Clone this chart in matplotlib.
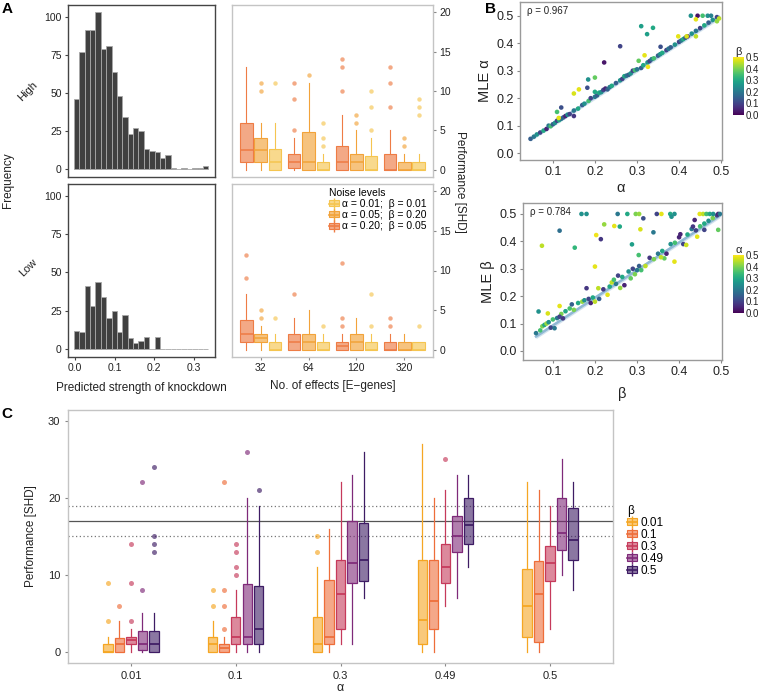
import numpy as np
import matplotlib
matplotlib.use("Agg")
import matplotlib.pyplot as plt
from matplotlib.colors import to_rgba, Normalize
from matplotlib.cm import ScalarMappable
from matplotlib.patches import Patch
from matplotlib.lines import Line2D

plt.rcParams['font.family'] = ['Liberation Sans', 'DejaVu Sans']

W, H = 761, 695

# ---------------- panel A : histograms ----------------
hist_edges = np.linspace(-0.003, 0.337, 26)
high_counts = [46, 77, 91, 91, 103, 79, 81, 64, 48, 34, 23, 27, 25, 13, 12, 11, 7, 9, 1, 0, 1, 0, 1, 1, 2]
low_counts = [12, 11, 41, 28, 44, 34, 20, 25, 11, 22, 7, 4, 5, 8, 0, 8, 0, 0, 0, 0, 0, 0, 0, 0, 0]

# ---------------- panel A : boxplots (q1, median, q3, whisker low, whisker high) ----------------
effects = ['32', '64', '120', '320']
noise_labels = ['α = 0.01;  β = 0.01', 'α = 0.05;  β = 0.20', 'α = 0.20;  β = 0.05']
noise_colors = ['#F5C550', '#F2A33A', '#EE7C45']

hi_a20 = [(1, 2.5, 6, 0, 13), (0.3, 1, 2, 0, 4), (0, 1, 3, 0, 7), (0, 0, 2, 0, 5)]
hi_a20_out = [[], [5, 9, 11], [10, 13, 14], [8, 11, 13]]
hi_a05 = [(1, 2.5, 4, 0, 6), (0, 1, 4.8, 0, 11), (0, 1, 2, 0, 5), (0, 0, 1, 0, 2)]
hi_a05_out = [[10, 11], [12], [6, 7], [3, 4]]
hi_a01 = [(0, 1, 2.7, 0, 6), (0, 0, 1, 0, 2), (0, 0, 1.8, 0, 4), (0, 0, 1, 0, 2)]
hi_a01_out = [[11], [3, 4, 6], [5, 8, 10], [7, 8, 9]]

lo_a20 = [(1, 2, 3.8, 0, 7), (0, 1, 2, 0, 4), (0, 0.5, 1, 0, 2), (0, 0, 1, 0, 2)]
lo_a20_out = [[9, 12], [7], [3, 4, 11], [3, 4]]
lo_a05 = [(1, 1.5, 2, 0, 3), (0, 1, 2, 0, 5), (0, 1, 2, 0, 4), (0, 0, 1, 0, 2)]
lo_a05_out = [[4, 5], [], [], []]
lo_a01 = [(0, 0, 1, 0, 2), (0, 0, 1, 0, 2), (0, 0, 1, 0, 2), (0, 0, 1, 0, 1)]
lo_a01_out = [[4], [3], [3, 7], [3]]

# ---------------- panel B : scatter ----------------
b1_alpha = [0.047, 0.055, 0.062, 0.07, 0.078, 0.085, 0.09, 0.095, 0.1, 0.105, 0.11, 0.115, 0.12, 0.125,
            0.13, 0.135, 0.14, 0.15, 0.16, 0.17, 0.175, 0.185, 0.19, 0.2, 0.205, 0.21, 0.215, 0.22, 0.225,
            0.23, 0.235, 0.24, 0.25, 0.26, 0.265, 0.27, 0.275, 0.28, 0.285, 0.29, 0.295, 0.3, 0.31, 0.315,
            0.325, 0.33, 0.335, 0.34, 0.35, 0.355, 0.36, 0.37, 0.375, 0.38, 0.39, 0.4, 0.405, 0.41, 0.415,
            0.42, 0.43, 0.44, 0.45, 0.46, 0.47, 0.48, 0.49, 0.495,
            0.428, 0.444, 0.456, 0.468, 0.476, 0.44, 0.49, 0.31, 0.338, 0.324, 0.398, 0.418, 0.44, 0.26,
            0.356, 0.222, 0.318, 0.304, 0.326, 0.184, 0.2, 0.182, 0.162, 0.15, 0.2, 0.12, 0.11, 0.114, 0.15]
b1_mle = [0.052, 0.06, 0.068, 0.075, 0.082, 0.088, 0.1, 0.098, 0.105, 0.11, 0.118, 0.12, 0.125, 0.13,
          0.135, 0.14, 0.142, 0.155, 0.162, 0.175, 0.18, 0.19, 0.2, 0.205, 0.21, 0.22, 0.222, 0.23, 0.235,
          0.232, 0.24, 0.245, 0.255, 0.265, 0.27, 0.28, 0.282, 0.285, 0.29, 0.3, 0.302, 0.305, 0.31, 0.32,
          0.33, 0.335, 0.342, 0.345, 0.355, 0.36, 0.365, 0.375, 0.38, 0.385, 0.395, 0.405, 0.41, 0.415, 0.42,
          0.425, 0.435, 0.445, 0.455, 0.465, 0.475, 0.485, 0.495, 0.49,
          0.5, 0.5, 0.5, 0.5, 0.5, 0.487, 0.48, 0.462, 0.456, 0.433, 0.425, 0.425, 0.425, 0.389,
          0.387, 0.33, 0.356, 0.336, 0.314, 0.268, 0.275, 0.238, 0.232, 0.217, 0.223, 0.166, 0.15, 0.128, 0.135]
b1_beta = [0.15, 0.2, 0.25, 0.1, 0.3, 0.05, 0.2, 0.35, 0.15, 0.25, 0.1, 0.3, 0.2, 0.15,
           0.05, 0.25, 0.1, 0.2, 0.3, 0.15, 0.25, 0.35, 0.1, 0.2, 0.15, 0.3, 0.25, 0.1, 0.05,
           0.15, 0.2, 0.3, 0.15, 0.25, 0.1, 0.3, 0.2, 0.15, 0.25, 0.1, 0.35, 0.2, 0.15, 0.3,
           0.25, 0.1, 0.2, 0.35, 0.15, 0.25, 0.3, 0.1, 0.2, 0.15, 0.25, 0.1, 0.2, 0.3, 0.15,
           0.05, 0.25, 0.2, 0.1, 0.3, 0.15, 0.25, 0.1, 0.45,
           0.25, 0.02, 0.35, 0.25, 0.22, 0.48, 0.42, 0.28, 0.3, 0.28, 0.48, 0.47, 0.45, 0.1,
           0.12, 0.03, 0.48, 0.38, 0.49, 0.25, 0.38, 0.12, 0.48, 0.47, 0.3, 0.12, 0.35, 0.48, 0.08]
b1_rho = 0.967
b1_fit = (0.0055, 0.989)

b2_beta = [0.06, 0.07, 0.075, 0.08, 0.085, 0.09, 0.095, 0.1, 0.11, 0.12, 0.13, 0.14, 0.145, 0.15, 0.16,
           0.17, 0.175, 0.185, 0.19, 0.195, 0.2, 0.21, 0.22, 0.23, 0.235, 0.24, 0.245, 0.25, 0.255, 0.26,
           0.265, 0.27, 0.28, 0.285, 0.29, 0.295, 0.3, 0.305, 0.31, 0.32, 0.33, 0.34, 0.35, 0.36, 0.37,
           0.38, 0.39, 0.4, 0.41, 0.42, 0.43, 0.44, 0.45, 0.46, 0.47, 0.48, 0.49,
           0.168, 0.18, 0.254, 0.277, 0.297, 0.305, 0.347, 0.358, 0.379, 0.389, 0.449, 0.457, 0.465, 0.473,
           0.481, 0.493, 0.497, 0.315, 0.382, 0.222, 0.246, 0.259, 0.308, 0.339, 0.116, 0.203, 0.214, 0.074,
           0.152, 0.288, 0.304, 0.2, 0.389, 0.365, 0.357, 0.493, 0.46, 0.443, 0.417, 0.433, 0.437, 0.403,
           0.18, 0.208, 0.066, 0.116, 0.088, 0.124, 0.104, 0.116]
b2_mle = [0.065, 0.075, 0.09, 0.095, 0.1, 0.105, 0.085, 0.115, 0.12, 0.135, 0.145, 0.155, 0.17, 0.15, 0.175,
          0.18, 0.185, 0.19, 0.175, 0.195, 0.18, 0.19, 0.225, 0.205, 0.235, 0.25, 0.26, 0.245, 0.275, 0.23,
          0.27, 0.24, 0.29, 0.265, 0.3, 0.28, 0.295, 0.31, 0.295, 0.31, 0.34, 0.335, 0.355, 0.365, 0.355,
          0.39, 0.395, 0.415, 0.39, 0.425, 0.445, 0.44, 0.455, 0.465, 0.475, 0.485, 0.495,
          0.5, 0.5, 0.5, 0.5, 0.5, 0.5, 0.5, 0.5, 0.5, 0.5, 0.5, 0.5, 0.5, 0.5,
          0.5, 0.5, 0.5, 0.484, 0.49, 0.462, 0.456, 0.454, 0.444, 0.433, 0.439, 0.423, 0.408, 0.384,
          0.377, 0.389, 0.35, 0.308, 0.326, 0.338, 0.342, 0.442, 0.442, 0.417, 0.387, 0.454, 0.478, 0.426,
          0.229, 0.229, 0.144, 0.164, 0.137, 0.119, 0.083, 0.125]
b2_alpha = [0.2, 0.35, 0.4, 0.3, 0.42, 0.25, 0.1, 0.35, 0.2, 0.4, 0.3, 0.35, 0.15, 0.4, 0.3,
            0.42, 0.25, 0.1, 0.05, 0.3, 0.45, 0.15, 0.08, 0.48, 0.3, 0.45, 0.35, 0.2, 0.1, 0.42,
            0.3, 0.05, 0.25, 0.38, 0.1, 0.4, 0.2, 0.15, 0.35, 0.45, 0.08, 0.4, 0.2, 0.3, 0.05,
            0.25, 0.35, 0.05, 0.1, 0.3, 0.2, 0.1, 0.35, 0.3, 0.25, 0.4, 0.1,
            0.25, 0.25, 0.2, 0.3, 0.4, 0.42, 0.1, 0.48, 0.3, 0.25, 0.48, 0.45, 0.35, 0.3,
            0.25, 0.05, 0.2, 0.12, 0.25, 0.42, 0.48, 0.3, 0.47, 0.2, 0.18, 0.49, 0.08, 0.45,
            0.33, 0.28, 0.35, 0.48, 0.48, 0.38, 0.45, 0.38, 0.1, 0.48, 0.46, 0.08, 0.05, 0.05,
            0.08, 0.45, 0.25, 0.48, 0.47, 0.08, 0.2, 0.1]
b2_rho = 0.784
b2_fit = (-0.008, 1.01)

# ---------------- panel C : boxplots per beta over alpha ----------------
c_alpha = ['0.01', '0.1', '0.3', '0.49', '0.5']
c_beta = ['0.01', '0.1', '0.3', '0.49', '0.5']
c_colors = ['#F5A623', '#EE6E3A', '#C63A5B', '#7F2A79', '#3E1C64']

c_b001 = [(0, 0, 1, 0, 2), (0, 1, 2, 0, 4), (0, 1, 4.5, 0, 11), (1, 4.1, 12, 0, 27), (2, 6, 10.8, 0, 22)]
c_b001_out = [[4, 9], [6, 8], [13, 15], [], []]
c_b01 = [(0, 1, 1.8, 0, 4), (0, 0.5, 1, 0, 2), (1, 2, 9.3, 0, 16), (3, 6.6, 12, 0, 20), (1.3, 7.5, 11.8, 0, 21)]
c_b01_out = [[6], [3, 6, 8, 22], [], [], []]
c_b03 = [(1, 1.5, 2, 0, 3), (1, 2, 4.5, 0, 8), (3, 7.5, 12, 1, 22), (9, 11, 14, 6, 21), (9.2, 11.5, 13.8, 3, 19)]
c_b03_out = [[4, 9, 14], [10, 11, 13, 14], [], [25], []]
c_b049 = [(0.2, 1, 2.7, 0, 5), (1, 2, 8.8, 0, 20), (9, 11.5, 17, 1, 23), (13, 15, 17.7, 7, 23), (13.2, 15.5, 20, 10, 25)]
c_b049_out = [[8, 22], [26], [], [], []]
c_b05 = [(0, 1, 2.7, 0, 5), (1, 3, 8.5, 0, 19), (9.2, 12, 16.8, 7, 26), (14, 16.5, 20, 11, 23), (12, 14.5, 18.7, 8, 22)]
c_b05_out = [[13, 14, 15, 24], [21], [], [], []]
c_ref_line = 17
c_ref_band = (15, 19)


def px_axes(fig, l, t, r, b):
    return fig.add_axes([l / W, 1 - b / H, (r - l) / W, (b - t) / H])


def draw_boxes(ax, summary, fliers, pos, color, width, lw=0.9, alpha=0.6, ms=3.6):
    stats = []
    for (q1, med, q3, lo, hi), fl in zip(summary, fliers):
        stats.append(dict(q1=q1, med=med, q3=q3, whislo=lo, whishi=hi, fliers=fl))
    ax.bxp(stats, positions=pos, widths=width, patch_artist=True, showcaps=False,
           boxprops=dict(facecolor=to_rgba(color, alpha), edgecolor=color, linewidth=lw),
           medianprops=dict(color=color, linewidth=lw * 1.4),
           whiskerprops=dict(color=color, linewidth=lw),
           flierprops=dict(marker='o', markerfacecolor=to_rgba(color, 0.65),
                           markeredgecolor='none', markersize=ms),
           manage_ticks=False)


def box_key(color, alpha=0.6):
    return (Line2D([0], [0], color=color, marker='|', markersize=9, linestyle='none', markeredgewidth=1),
            Patch(facecolor=to_rgba(color, alpha), edgecolor=color, linewidth=0.8),
            Line2D([0], [0], color=color, linewidth=1.2))


def style_spines(ax, color):
    for s in ax.spines.values():
        s.set_color(color)
        s.set_linewidth(1.0)


fig = plt.figure(figsize=(W / 100, H / 100), dpi=100)

# ---- A histograms ----
for (t, b), counts, lab, ly in [((5, 177), high_counts, 'High', 91), ((184, 357), low_counts, 'Low', 268)]:
    ax = px_axes(fig, 68, t, 215, b)
    ax.bar(hist_edges[:-1], counts, width=np.diff(hist_edges), align='edge',
           color='#404040', edgecolor='#a8a8a8', linewidth=0.6)
    ax.set_xlim(-0.018, 0.354)
    ax.set_ylim(-5.2, 107.7)
    ax.set_yticks([0, 25, 50, 75, 100])
    style_spines(ax, '#444444')
    ax.tick_params(labelsize=7.5, length=2.5, color='#444444', labelcolor='#222222', pad=2)
    if lab == 'High':
        ax.set_xticks([])
    else:
        ax.set_xticks([0.0, 0.1, 0.2, 0.3])
        ax.set_xticklabels(['0.0', '0.1', '0.2', '0.3'])
        ax.set_xlabel('Predicted strength of knockdown', fontsize=8.5, color='#222222', labelpad=6)
    fig.text(28 / W, 1 - ly / H, lab, rotation=45, fontsize=8, ha='center', va='center', color='#222222')

fig.text(8 / W, 1 - 180 / H, 'Frequency', rotation=90, fontsize=8.5, ha='center', va='center', color='#222222')

# ---- A boxplots ----
xpos = np.arange(1, len(effects) + 1)
offs = [0.3, 0.0, -0.3]
for (t, b), series in [((5, 177), [(hi_a01, hi_a01_out), (hi_a05, hi_a05_out), (hi_a20, hi_a20_out)]),
                       ((184, 357), [(lo_a01, lo_a01_out), (lo_a05, lo_a05_out), (lo_a20, lo_a20_out)])]:
    ax = px_axes(fig, 232, t, 433, b)
    for (summ, outs), col, off in zip(series, noise_colors, offs):
        draw_boxes(ax, summ, outs, xpos + off, col, 0.26, lw=0.8, alpha=0.65, ms=3.2)
    ax.set_xlim(0.4, 4.6)
    ax.set_ylim(-0.9, 20.9)
    ax.yaxis.tick_right()
    ax.set_yticks([0, 5, 10, 15, 20])
    style_spines(ax, '#c4c4c4')
    ax.tick_params(labelsize=7.5, length=2.5, color='#888888', labelcolor='#222222', pad=2)
    if t == 5:
        ax.set_xticks([])
    else:
        ax.set_xticks(xpos)
        ax.set_xticklabels(effects)
        ax.set_xlabel('No. of effects [E\u2212genes]', fontsize=8.5, color='#222222', labelpad=5)
        handles = [box_key(c, 0.65) for c in noise_colors]
        ax.legend(handles, noise_labels, loc='upper right', bbox_to_anchor=(0.985, 1.0),
                  frameon=False, fontsize=7.5, title='Noise levels', title_fontsize=7.5,
                  handlelength=0.9, handleheight=0.5, labelspacing=0.12, handletextpad=0.3,
                  borderaxespad=0.15, borderpad=0.2, alignment='left')

fig.text(460 / W, 1 - 182 / H, 'Performance [SHD]', rotation=270, fontsize=8.5,
         ha='center', va='center', color='#222222')

# ---- B scatters ----
norm = Normalize(0, 0.5)
for (l, t, r, b), xs, ys, cs, rho, fit, xl, yl, cl, cb_t, ylim, xpad in [
        ((520, 2, 722, 160), b1_alpha, b1_mle, b1_beta, b1_rho, b1_fit, 'α', 'MLE α', 'β', 57, (-0.025, 0.55), 2),
        ((523, 203, 722, 360), b2_beta, b2_mle, b2_alpha, b2_rho, b2_fit, 'β', 'MLE β', 'α', 255, (-0.033, 0.54), 6)]:
    ax = px_axes(fig, l, t, r, b)
    xfit = np.array([min(xs), max(xs)])
    yfit = fit[0] + fit[1] * xfit
    ax.fill_between(xfit, yfit - 0.008, yfit + 0.008, color='#c9dcea', alpha=0.8, linewidth=0, zorder=1)
    ax.plot(xfit, yfit, color='#90b8d4', linewidth=1.8, zorder=2)
    ax.scatter(xs, ys, c=cs, cmap='viridis', norm=norm, s=11, linewidths=0, zorder=3)
    ax.set_xlim(0.022 if l == 520 else 0.029, 0.502)
    ax.set_ylim(*ylim)
    ax.set_xticks([0.1, 0.2, 0.3, 0.4, 0.5])
    ax.set_yticks([0.0, 0.1, 0.2, 0.3, 0.4, 0.5])
    ax.set_xticklabels(['0.1', '0.2', '0.3', '0.4', '0.5'])
    ax.set_yticklabels(['0.0', '0.1', '0.2', '0.3', '0.4', '0.5'])
    style_spines(ax, '#9a9a9a')
    ax.tick_params(labelsize=9, length=2.5, color='#888888', labelcolor='#222222', pad=2)
    ax.set_xlabel(xl, fontsize=10.5, color='#222222', labelpad=xpad)
    ax.set_ylabel(yl, fontsize=10.5, color='#222222', labelpad=3)
    ax.text(0.035, 0.975, 'ρ = %.3f' % rho, transform=ax.transAxes, fontsize=7, va='top', ha='left', color='#222222')
    cax = px_axes(fig, 733, cb_t, 744, cb_t + 58)
    cb = fig.colorbar(ScalarMappable(norm=norm, cmap='viridis'), cax=cax)
    cb.outline.set_visible(False)
    cb.set_ticks([0.0, 0.1, 0.2, 0.3, 0.4, 0.5])
    cb.set_ticklabels(['0.0', '0.1', '0.2', '0.3', '0.4', '0.5'])
    cax.tick_params(labelsize=7, length=0, pad=1, labelcolor='#222222')
    cax.set_title(cl, fontsize=8, pad=1, color='#222222')

# ---- C boxplots ----
ax = px_axes(fig, 68, 410, 613, 663)
xc = np.arange(1, len(c_alpha) + 1)
c_series = [(c_b001, c_b001_out), (c_b01, c_b01_out), (c_b03, c_b03_out), (c_b049, c_b049_out), (c_b05, c_b05_out)]
for i, ((summ, outs), col) in enumerate(zip(c_series, c_colors)):
    draw_boxes(ax, summ, outs, xc + (i - 2) * 0.11, col, 0.09, lw=0.9, alpha=0.6)
ax.axhline(c_ref_line, color='#555555', linewidth=0.9, zorder=0)
for v in c_ref_band:
    ax.axhline(v, color='#777777', linewidth=0.9, linestyle=(0, (1, 2)), zorder=0)
ax.set_xlim(0.4, 5.6)
ax.set_ylim(-1.43, 31.4)
ax.set_xticks(xc)
ax.set_xticklabels(c_alpha)
ax.set_yticks([0, 10, 20, 30])
style_spines(ax, '#c4c4c4')
ax.tick_params(labelsize=8, length=2.5, color='#888888', labelcolor='#222222', pad=3)
ax.set_xlabel('α', fontsize=9, color='#222222', labelpad=1)
ax.set_ylabel('Performance [SHD]', fontsize=8.5, color='#222222', labelpad=8)
fig.legend([box_key(c) for c in c_colors], c_beta, loc='upper left',
           bbox_to_anchor=(622 / W, 1 - 500 / H), frameon=False, fontsize=8.5,
           title='β', title_fontsize=8.5, handlelength=0.9, handleheight=0.6,
           labelspacing=0.0, handletextpad=0.3, alignment='left', borderaxespad=0)

# panel letters
for lt, x, y in [('A', 7, 9), ('B', 490, 9), ('C', 7, 414)]:
    fig.text(x / W, 1 - y / H, lt, fontsize=11, fontweight='bold', ha='center', va='center')

fig.savefig('out.png', dpi=100)
